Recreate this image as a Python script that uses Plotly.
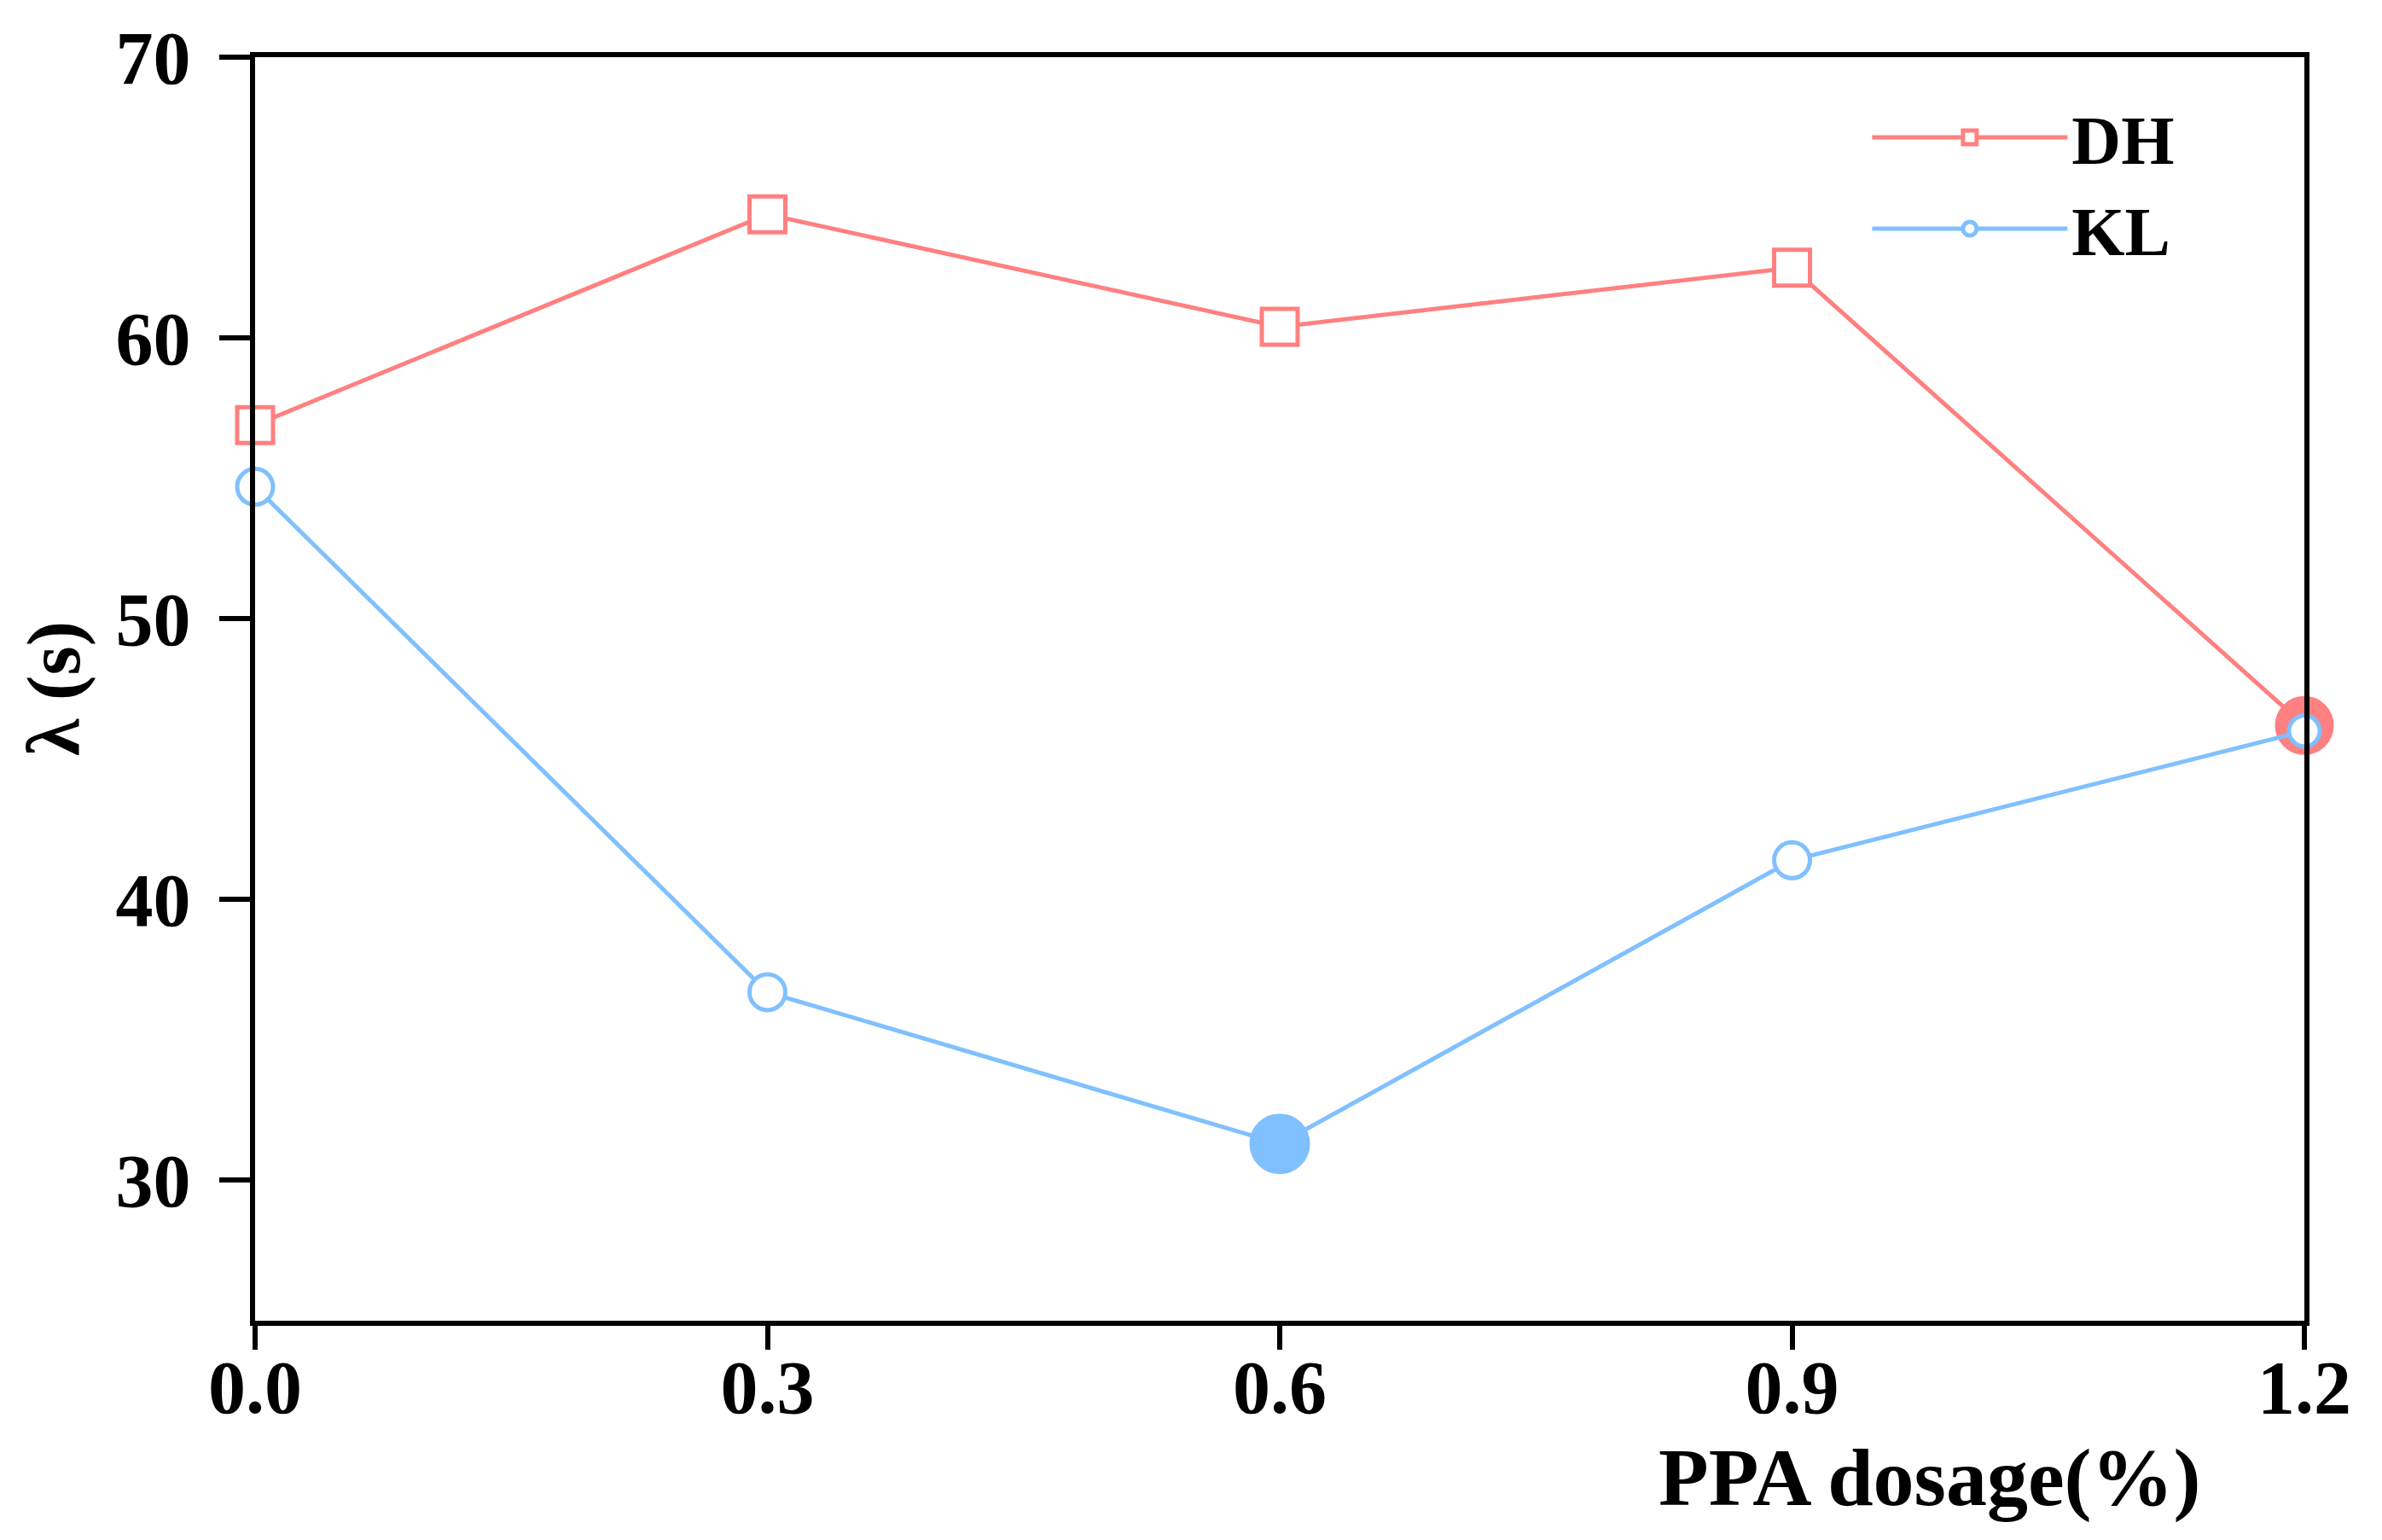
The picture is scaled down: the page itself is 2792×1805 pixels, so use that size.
import plotly.graph_objects as go

# ---- data ----
ppa_dosage = [0.0, 0.3, 0.6, 0.9, 1.2]
dh_values = [56.9, 64.4, 60.4, 62.5, 46.2]
kl_values = [54.7, 36.7, 31.3, 41.4, 46.0]
x_ticks = [0.0, 0.3, 0.6, 0.9, 1.2]
x_tick_labels = ["0.0", "0.3", "0.6", "0.9", "1.2"]
y_ticks = [30, 40, 50, 60, 70]
y_tick_labels = ["30", "40", "50", "60", "70"]

PINK = "#FF8080"
BLUE = "#80C0FF"
FONT = "Liberation Serif"
FS = 88

fig = go.Figure()

fig.add_trace(go.Scatter(
    x=ppa_dosage, y=dh_values, name="DH", mode="lines+markers",
    line=dict(color=PINK, width=5),
    marker=dict(symbol=["square"] * 4 + ["circle"],
                size=[42, 42, 42, 42, 64],
                color=["white"] * 4 + [PINK],
                opacity=1,
                line=dict(color=PINK, width=5)),
    cliponaxis=False,
))
fig.add_trace(go.Scatter(
    x=ppa_dosage, y=kl_values, name="KL", mode="lines+markers",
    line=dict(color=BLUE, width=5),
    marker=dict(symbol="circle",
                size=[42, 42, 66, 42, 36],
                color=["white", "white", BLUE, "white", "white"],
                opacity=1,
                line=dict(color=BLUE, width=5)),
    cliponaxis=False,
))

axis_common = dict(
    showline=True, linecolor="black", linewidth=6, mirror=True,
    ticks="outside", tickcolor="black", tickwidth=6,
    showgrid=False, zeroline=False,
    tickfont=dict(family=FONT, size=FS, color="black", weight="bold"),
)

fig.update_xaxes(range=[0, 1.2], tickvals=x_ticks, ticktext=x_tick_labels,
                 ticklen=28, ticklabelstandoff=-32, **axis_common)
fig.update_yaxes(range=[25, 70], tickvals=y_ticks, ticktext=y_tick_labels,
                 ticklen=36, ticklabelstandoff=16, **axis_common)

fig.add_annotation(text="PPA dosage(%)", xref="paper", yref="paper",
                   x=0.817, y=-0.124, xanchor="center", yanchor="middle",
                   showarrow=False,
                   font=dict(family=FONT, size=96, color="black", weight="bold"))
fig.add_annotation(text="λ (s)", xref="paper", yref="paper",
                   x=-0.098, y=0.5, xanchor="center", yanchor="middle",
                   textangle=-90, showarrow=False,
                   font=dict(family=FONT, size=FS, color="black", weight="bold"))

fig.update_layout(
    width=2792, height=1805,
    margin=dict(l=291, r=99, t=50, b=265),
    paper_bgcolor="white", plot_bgcolor="white",
    showlegend=True,
    legend=dict(x=0.787, y=0.976, xanchor="left", yanchor="top",
                bgcolor="rgba(0,0,0,0)", itemwidth=229,
                font=dict(family=FONT, size=80, color="black", weight="bold"),
                tracegroupgap=0),
)

fig.write_html("out.html")
